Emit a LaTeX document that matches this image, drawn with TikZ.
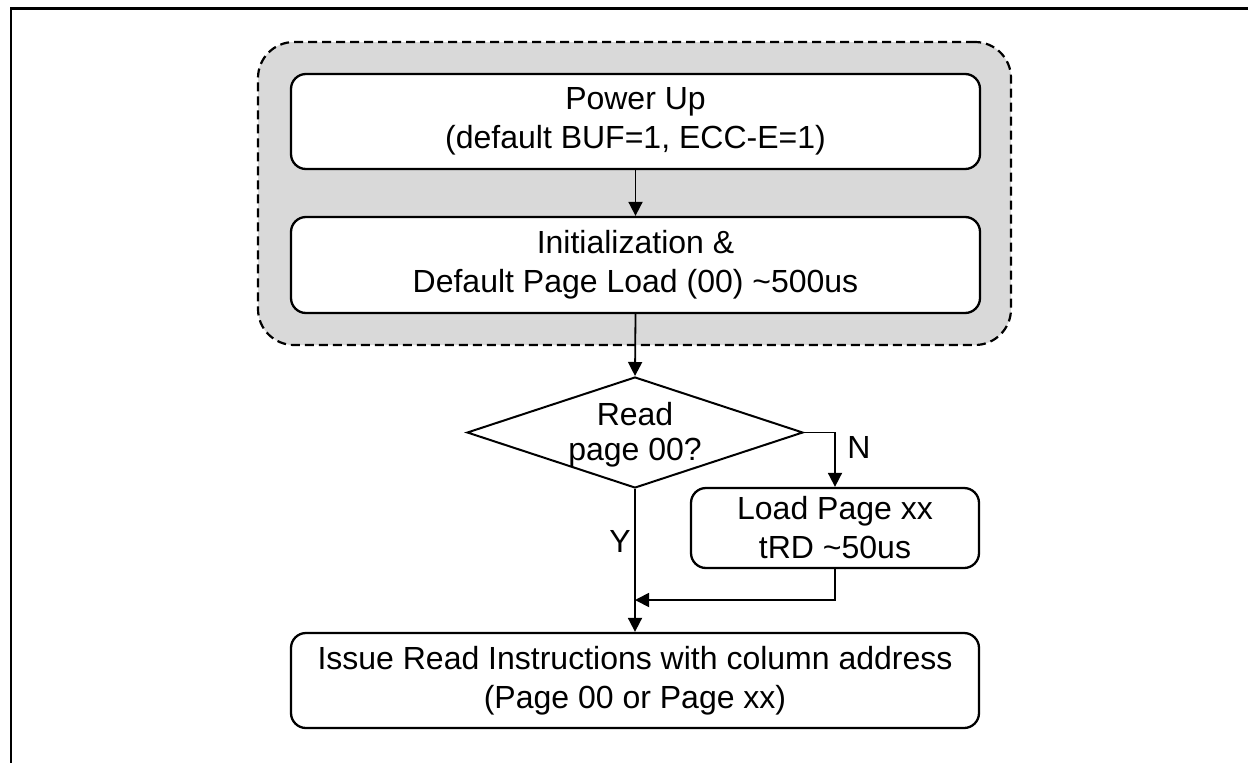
\documentclass[tikz,border=0pt]{standalone}
\usepackage{fontspec}
\setmainfont{Liberation Sans}
\usetikzlibrary{shapes.geometric,arrows.meta}
\definecolor{grpgray}{HTML}{D9D9D9}
\tikzset{
  txt/.style={font=\fontsize{32}{39}\selectfont, align=center},
  procbox/.style={txt, draw, line width=2.3pt, rounded corners=15pt, fill=white, inner sep=0pt},
  grpbox/.style={draw, line width=2.2pt, dash pattern=on 9pt off 5pt, rounded corners=36pt, fill=grpgray, inner sep=0pt},
  decbox/.style={draw, diamond, line width=2pt, fill=white, inner sep=0pt},
  arr/.style={line width=1.8pt, -{Triangle[length=14pt,width=14pt]}},
  lab/.style={font=\fontsize{32}{38}\selectfont, inner sep=0pt}
}
\begin{document}
\begin{tikzpicture}[x=1pt,y=-1pt]
\useasboundingbox (0,0) rectangle (1248,763);
% frame
\draw[line width=2.7pt] (11,763) -- (11,8.5) -- (1248,8.5);
% group
\node[grpbox, minimum width=753pt, minimum height=303pt] (grp) at (634.5,193.5) {};
% boxes
\node[procbox, minimum width=689pt, minimum height=95pt] (pu) at (635.5,121.5) {Power Up\\(default BUF=1, ECC-E=1)};
\node[procbox, minimum width=689pt, minimum height=96pt] (init) at (635.5,265) {Initialization \&\\Default Page Load (00) \textasciitilde500us};
\node[decbox, minimum width=336pt, minimum height=111pt] (dec) at (635,432.5) {};
\node[txt, inner sep=0pt, font=\fontsize{32}{35}\selectfont] (dectxt) at (635,435) {Read\\page 00?};
\node[procbox, minimum width=288pt, minimum height=80pt] (load) at (835,528) {Load Page xx\\tRD \textasciitilde50us};
\node[procbox, minimum width=688pt, minimum height=95pt] (fin) at (635,680.5) {Issue Read Instructions with column address\\(Page 00 or Page xx)};
\coordinate (merge) at (635,600);
% connectors
\draw[arr] (pu.south) -- (init.north);
\draw[arr] (init.south) -- (dec.north);
\draw[arr] (dec.east) -| (load.north);
\draw[arr] (dec.south) -- (fin.north);
\draw[arr] (load.south) |- (merge);
% labels
\node[lab] (nlab) at (859,447) {N};
\node[lab] (ylab) at (620,541) {Y};
\end{tikzpicture}
\end{document}
